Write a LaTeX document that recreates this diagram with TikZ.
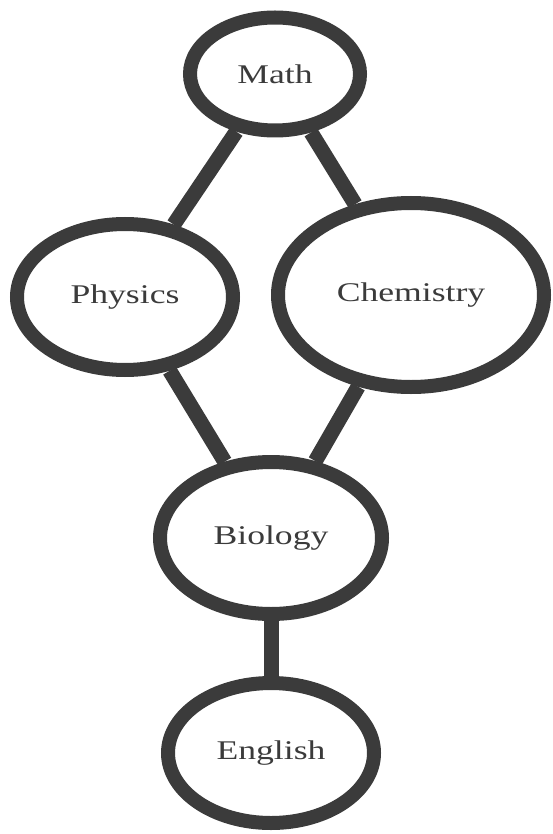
\documentclass[tikz,border=0pt]{standalone}
\usepackage{fontspec}
\setmainfont{Liberation Serif}
\usepackage{tikz}
\usetikzlibrary{shapes.geometric}
\definecolor{ringgray}{HTML}{3B3B3B}
\newcommand{\wide}[1]{\scalebox{1.32}[1]{#1}}

\begin{document}
\begin{tikzpicture}[x=1pt, y=1pt,
    subject/.style={ellipse, draw=ringgray, line width=14pt, fill=white,
        inner sep=0pt, text=ringgray, font=\fontsize{27}{30}\selectfont},
    link/.style={draw=ringgray, line width=15pt}]
    \useasboundingbox (0,0) rectangle (553,-834);

    \node[subject, minimum width=170pt, minimum height=113pt] (math) at (275,-74) {\wide{Math}};
    \node[subject, minimum width=216pt, minimum height=146pt] (physics) at (125,-297) {\wide{Physics}};
    \node[subject, minimum width=266pt, minimum height=184pt] (chemistry) at (411,-295) {\wide{Chemistry}};
    \node[subject, minimum width=222pt, minimum height=152pt] (biology) at (271,-538) {\wide{Biology}};
    \node[subject, minimum width=206pt, minimum height=140pt] (english) at (271,-753) {\wide{English}};

    \path[link] (math) -- (physics);
    \path[link] (math) -- (chemistry);
    \path[link] (physics) -- (biology);
    \path[link] (chemistry) -- (biology);
    \path[link] (biology) -- (english);
\end{tikzpicture}
\end{document}
